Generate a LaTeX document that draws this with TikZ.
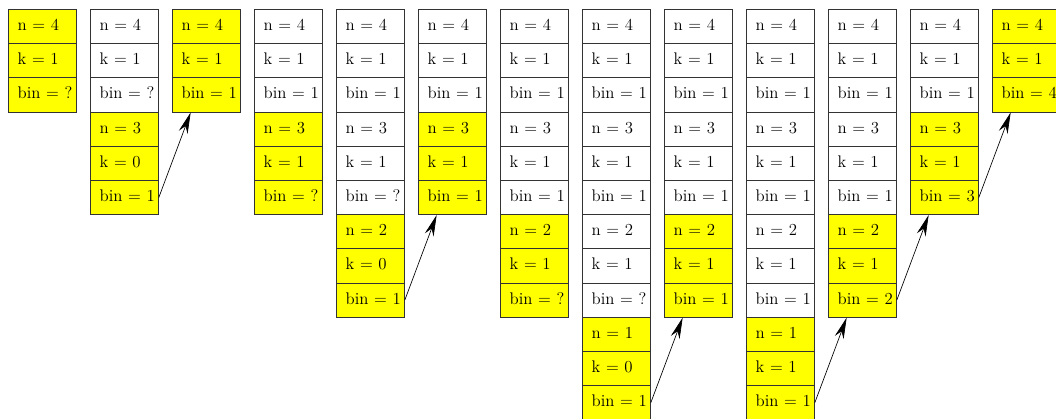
\documentclass[tikz,border=0pt]{standalone}
\usepackage{tikz}
\usetikzlibrary{arrows.meta}
\definecolor{active}{RGB}{255,255,0}

% one stack frame = a run of cells in column #1, starting at row #2
\newcommand{\frames}[4]{%
  \foreach \txt [count=\r from #2] in {#4}
    \node[cell, fill=#3] (c#1-\r) at ({8+82*(#1-1)}, {9+34.2*(\r-1)}) {\hspace*{7pt}\txt};
}

\begin{document}
\begin{tikzpicture}[x=0.75pt, y=-0.75pt,
    every node/.style={font=\fontsize{12.6}{14}\selectfont},
    cell/.style={draw=black!80, line width=0.6pt, anchor=north west,
      minimum width=51pt, minimum height=25.65pt, inner xsep=0pt,
      text width=51pt, align=left, text height=1.5ex, text depth=.1ex},
    ret/.style={-{Stealth[length=16pt, width=7pt]}, line width=0.5pt}]
    \useasboundingbox (0,0) rectangle (1056,418);

    % column 1
    \frames{1}{1}{active}{n = 4, k = 1, bin = ?}
    % column 2
    \frames{2}{1}{white}{n = 4, k = 1, bin = ?}
    \frames{2}{4}{active}{n = 3, k = 0, bin = 1}
    % column 3
    \frames{3}{1}{active}{n = 4, k = 1, bin = 1}
    % column 4
    \frames{4}{1}{white}{n = 4, k = 1, bin = 1}
    \frames{4}{4}{active}{n = 3, k = 1, bin = ?}
    % column 5
    \frames{5}{1}{white}{n = 4, k = 1, bin = 1, n = 3, k = 1, bin = ?}
    \frames{5}{7}{active}{n = 2, k = 0, bin = 1}
    % column 6
    \frames{6}{1}{white}{n = 4, k = 1, bin = 1}
    \frames{6}{4}{active}{n = 3, k = 1, bin = 1}
    % column 7
    \frames{7}{1}{white}{n = 4, k = 1, bin = 1, n = 3, k = 1, bin = 1}
    \frames{7}{7}{active}{n = 2, k = 1, bin = ?}
    % column 8
    \frames{8}{1}{white}{n = 4, k = 1, bin = 1, n = 3, k = 1, bin = 1, n = 2, k = 1, bin = ?}
    \frames{8}{10}{active}{n = 1, k = 0, bin = 1}
    % column 9
    \frames{9}{1}{white}{n = 4, k = 1, bin = 1, n = 3, k = 1, bin = 1}
    \frames{9}{7}{active}{n = 2, k = 1, bin = 1}
    % column 10
    \frames{10}{1}{white}{n = 4, k = 1, bin = 1, n = 3, k = 1, bin = 1, n = 2, k = 1, bin = 1}
    \frames{10}{10}{active}{n = 1, k = 1, bin = 1}
    % column 11
    \frames{11}{1}{white}{n = 4, k = 1, bin = 1, n = 3, k = 1, bin = 1}
    \frames{11}{7}{active}{n = 2, k = 1, bin = 2}
    % column 12
    \frames{12}{1}{white}{n = 4, k = 1, bin = 1}
    \frames{12}{4}{active}{n = 3, k = 1, bin = 3}
    % column 13
    \frames{13}{1}{active}{n = 4, k = 1, bin = 4}

    % returns
    \draw[ret] (c2-6.east) -- ([xshift=14pt]c3-3.south west);
    \draw[ret] (c5-9.east) -- ([xshift=14pt]c6-6.south west);
    \draw[ret] (c8-12.east) -- ([xshift=14pt]c9-9.south west);
    \draw[ret] (c10-12.east) -- ([xshift=14pt]c11-9.south west);
    \draw[ret] (c11-9.east) -- ([xshift=14pt]c12-6.south west);
    \draw[ret] (c12-6.east) -- ([xshift=14pt]c13-3.south west);
\end{tikzpicture}
\end{document}
